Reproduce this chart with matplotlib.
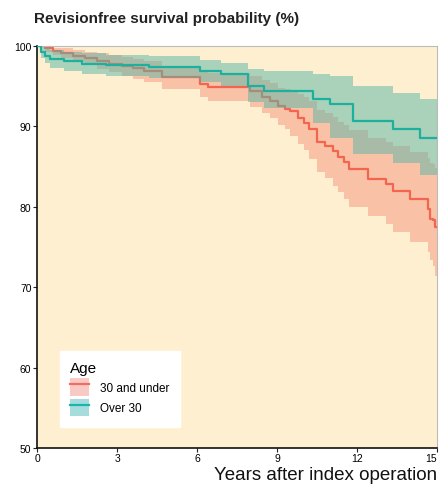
import matplotlib.pyplot as plt
import numpy as np
from matplotlib.patches import Patch
from matplotlib.lines import Line2D

plt.rcParams['font.family'] = ['Liberation Sans', 'DejaVu Sans']

# 30 and under: step times (years), survival and confidence band (%)
t_u30 = [0, 0.3, 0.6, 0.9, 1.35, 1.8, 2.25, 2.7, 3.2, 3.6, 4.0, 4.7, 6.1, 6.4,
         8.0, 8.45, 8.75, 9.05, 9.3, 9.5, 9.8, 10.0, 10.2, 10.5, 10.8, 11.1,
         11.3, 11.5, 11.7, 12.4, 13.1, 13.35, 14.0, 14.67, 14.75, 14.85, 14.92]
s_u30 = [100, 99.7, 99.4, 99.1, 98.8, 98.5, 98.1, 97.8, 97.5, 97.2, 96.9, 96.1, 95.3, 94.9,
         94.4, 93.7, 93.2, 92.5, 92.2, 91.9, 91.0, 90.4, 89.7, 88.1, 87.5, 86.9,
         86.2, 85.6, 84.7, 83.5, 82.8, 82.0, 81.0, 79.7, 78.5, 78.3, 77.5]
lo_u30 = [100, 99.3, 98.9, 98.5, 98.0, 97.6, 97.1, 96.7, 96.3, 95.9, 95.5, 94.6, 93.6, 93.2,
          92.4, 91.6, 91.0, 90.2, 89.7, 88.8, 87.8, 87.0, 85.9, 84.3, 83.6, 82.6,
          81.8, 81.0, 80.0, 78.9, 77.9, 76.9, 75.6, 74.4, 73.4, 72.6, 71.4]
up_u30 = [100, 99.9, 99.8, 99.7, 99.5, 99.3, 99.1, 98.9, 98.6, 98.4, 98.1, 97.5, 97.0, 96.6,
          96.3, 95.8, 95.4, 94.8, 94.6, 94.4, 94.0, 93.6, 93.1, 92.0, 91.6, 91.2,
          90.6, 90.2, 89.5, 88.6, 88.1, 87.5, 86.8, 86.0, 85.4, 85.3, 84.8]

# Over 30
t_o30 = [0, 0.15, 0.3, 0.5, 1.0, 1.7, 2.6, 4.2, 6.1, 6.9, 7.9, 8.5, 10.35, 11.0, 11.85, 13.35, 14.36]
s_o30 = [100, 99.3, 98.8, 98.4, 98.1, 97.8, 97.6, 97.4, 96.9, 96.5, 95.0, 94.4, 93.4, 92.8, 90.7, 89.7, 88.6]
up_o30 = [100, 99.9, 99.7, 99.5, 99.3, 99.1, 98.9, 98.8, 98.2, 97.9, 97.1, 96.9, 96.5, 96.2, 95.0, 94.2, 93.4]
lo_o30 = [100, 98.5, 97.9, 97.3, 96.9, 96.5, 96.3, 96.0, 95.5, 95.0, 93.0, 92.3, 90.4, 88.5, 86.6, 85.5, 84.0]

x_end = 15
x_ticks = [0, 3, 6, 9, 12, 15]
y_ticks = [50, 60, 70, 80, 90, 100]


def ext(t, *cols):
    # carry the last value to the end of follow-up
    return [np.array(t + [x_end])] + [np.array(c + [c[-1]]) for c in cols]


fig = plt.figure(figsize=(4.41, 4.89), dpi=100)
ax = fig.add_axes([0.084, 0.082, 0.907, 0.822])
ax.set_facecolor('#FEEFD0')

tu, su, lu, uu = ext(t_u30, s_u30, lo_u30, up_u30)
to, so, lo, uo = ext(t_o30, s_o30, lo_o30, up_o30)

ax.fill_between(tu, lu, uu, step='post', color=(0.965, 0.59, 0.50), alpha=0.5, lw=0, zorder=1)
ax.step(tu, su, where='post', color='#F2654F', lw=1.6, zorder=2)
ax.fill_between(to, lo, uo, step='post', color=(0.34, 0.71, 0.65), alpha=0.5, lw=0, zorder=3)
ax.step(to, so, where='post', color='#1DB09D', lw=1.6, zorder=4)

ax.set_xlim(0, 15)
ax.set_ylim(50, 100)
ax.set_xticks(x_ticks)
ax.set_yticks(y_ticks)
ax.tick_params(labelsize=7.5, length=3, width=0.8, pad=1, color='#222222')
ax.get_xticklabels()[-1].set_horizontalalignment('right')

for side in ['top', 'right']:
    ax.spines[side].set_color('#BBBBBB')
    ax.spines[side].set_linewidth(0.8)
for side in ['left', 'bottom']:
    ax.spines[side].set_color('#111111')
    ax.spines[side].set_linewidth(1.2)

fig.text(0.077, 0.962, 'Revisionfree survival probability (%)', fontsize=11,
         fontweight='bold', color='#222222', va='center', ha='left')
ax.set_xlabel('Years after index operation', fontsize=13.5, color='#111111', loc='right', labelpad=2)

handles = [
    (Patch(facecolor='#F9C9C6', edgecolor='none'), Line2D([], [], color='#F0705F', lw=1.6)),
    (Patch(facecolor='#A6DCDC', edgecolor='none'), Line2D([], [], color='#1BB5B0', lw=1.6)),
]
leg = ax.legend(handles, ['30 and under', 'Over 30'], title='Age', loc='lower left',
                bbox_to_anchor=(0.042, 0.038), fontsize=8.5, title_fontsize=11,
                frameon=True, fancybox=False, framealpha=1, edgecolor='white',
                handlelength=1.6, handleheight=1.9, handletextpad=0.9,
                borderpad=0.9, labelspacing=0.25)
leg._legend_box.align = 'left'

fig.savefig('out.png', dpi=100)
